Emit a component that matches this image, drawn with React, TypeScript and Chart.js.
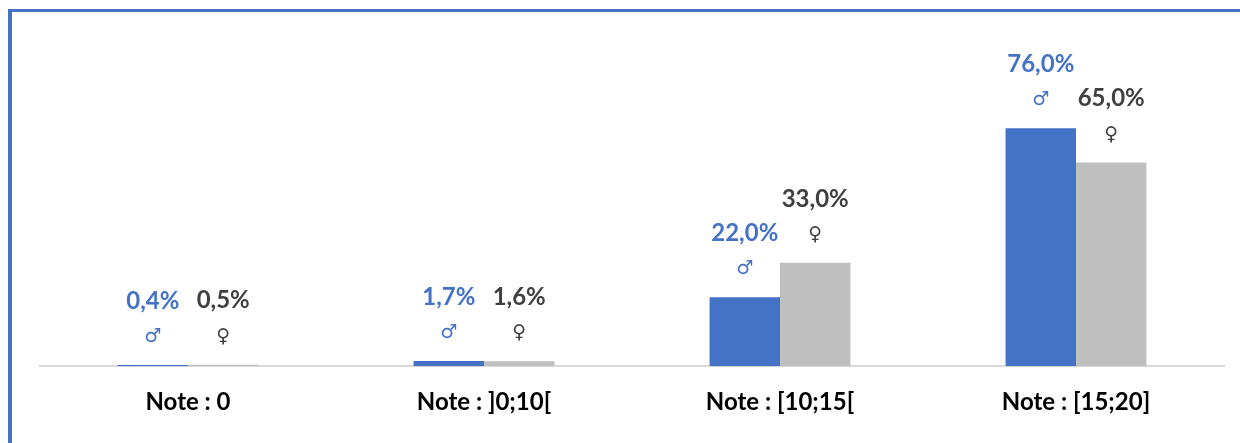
import React, { useEffect, useRef } from "react";
import { Chart, registerables } from "chart.js";

Chart.register(...registerables);

const categories: string[] = ["Note : 0", "Note : ]0;10[", "Note : [10;15[", "Note : [15;20]"];
const hommes: number[] = [0.4, 1.7, 22.0, 76.0];
const femmes: number[] = [0.5, 1.6, 33.0, 65.0];
const seriesNames: string[] = ["Hommes", "Femmes"];
const symbols: string[] = ["\u2642", "\u2640"];

const BLUE = "#4472C4";
const GREY = "#BFBFBF";
const DARK = "#404040";
const FONT = "Lato, 'Open Sans', sans-serif";

const fmt = (v: number) => v.toFixed(1).replace(".", ",") + "%";

const labelPlugin = {
  id: "valueLabels",
  afterDatasetsDraw(chart: any) {
    const ctx = chart.ctx;
    ctx.save();
    ctx.textAlign = "center";
    ctx.textBaseline = "middle";
    chart.data.datasets.forEach((ds: any, di: number) => {
      const meta = chart.getDatasetMeta(di);
      const color = di === 0 ? BLUE : DARK;
      meta.data.forEach((bar: any, i: number) => {
        const v = ds.data[i] as number;
        ctx.fillStyle = color;
        ctx.font = `bold 24px ${FONT}`;
        ctx.fillText(fmt(v), bar.x, bar.y - 64);
        ctx.font = `bold 19px 'DejaVu Sans', sans-serif`;
        ctx.fillText(symbols[di], bar.x, bar.y - 28);
      });
    });
    ctx.restore();
  },
};

export default function App() {
  const ref = useRef<HTMLCanvasElement | null>(null);
  useEffect(() => {
    if (!ref.current) return;
    const chart = new Chart(ref.current, {
      type: "bar",
      data: {
        labels: categories,
        datasets: [
          { label: seriesNames[0], data: hommes, backgroundColor: BLUE, categoryPercentage: 0.476, barPercentage: 1 },
          { label: seriesNames[1], data: femmes, backgroundColor: GREY, categoryPercentage: 0.476, barPercentage: 1 },
        ],
      },
      options: {
        animation: false,
        responsive: false,
        layout: { padding: { left: 40, right: 16, top: 53, bottom: 4 } },
        plugins: { legend: { display: false }, tooltip: { enabled: false }, title: { display: false } },
        scales: {
          x: {
            grid: { display: false, drawTicks: false },
            border: { display: true, color: "#D9D9D9", width: 2 },
            ticks: { color: "#000000", padding: 22, font: { family: FONT, size: 24, weight: "bold" } },
          },
          y: {
            display: false,
            min: 0,
            max: 100,
          },
        },
      },
      plugins: [labelPlugin],
    });
    return () => chart.destroy();
  }, []);
  return (
    <>
      <div
        style={{
          position: "absolute",
          left: 8,
          top: 9,
          width: 1232,
          height: 434,
          boxSizing: "border-box",
          borderTop: `3px solid ${BLUE}`,
          borderLeft: `4px solid ${BLUE}`,
        }}
      />
      <canvas
        ref={ref}
        width={1240}
        height={443}
        style={{ position: "absolute", left: 0, top: 0, width: 1240, height: 443 }}
      />
    </>
  );
}
